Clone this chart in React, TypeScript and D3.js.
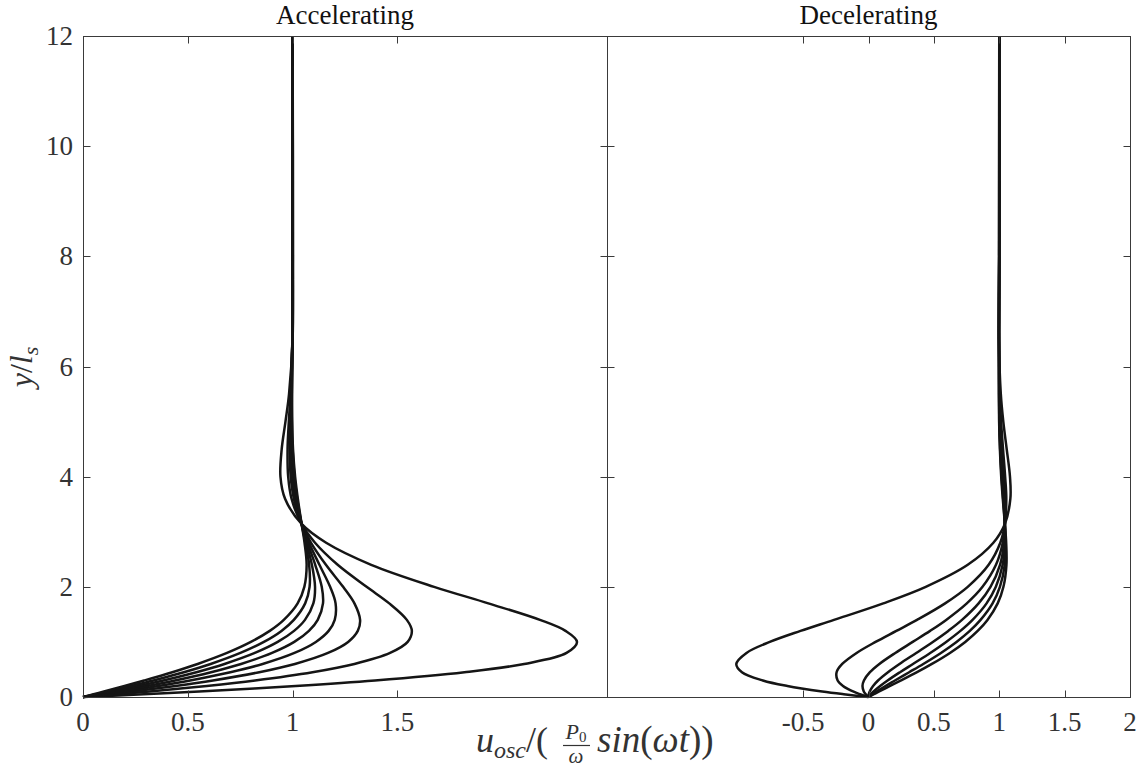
import React from 'react';
import * as d3 from 'd3';

// Wall-normal coordinate y/l_s shared by every profile
const ETA = [0, 0.05, 0.1, 0.2, 0.3, 0.45, 0.6, 0.8, 1.0, 1.2, 1.4, 1.7, 2.0, 2.4, 2.8, 3.1416, 3.6, 4.0, 4.5, 5.0, 5.5, 6.5, 8, 12];

// Accelerating phase profiles (u_osc normalised), one array per phase
const accelProfiles: number[][] = [
  [0, 0.289, 0.554, 1.015, 1.393, 1.82, 2.105, 2.307, 2.357, 2.302, 2.18, 1.934, 1.675, 1.375, 1.16, 1.043, 0.964, 0.942, 0.948, 0.966, 0.983, 1.0, 1.002, 1],
  [0, 0.165, 0.318, 0.59, 0.821, 1.095, 1.295, 1.465, 1.549, 1.569, 1.545, 1.461, 1.353, 1.215, 1.107, 1.043, 0.995, 0.979, 0.976, 0.982, 0.99, 0.999, 1.001, 1],
  [0, 0.121, 0.235, 0.441, 0.62, 0.841, 1.011, 1.169, 1.265, 1.311, 1.322, 1.295, 1.241, 1.159, 1.088, 1.043, 1.006, 0.991, 0.986, 0.988, 0.993, 0.999, 1.0, 1],
  [0, 0.098, 0.19, 0.36, 0.511, 0.703, 0.857, 1.009, 1.111, 1.172, 1.201, 1.205, 1.179, 1.128, 1.078, 1.043, 1.012, 0.998, 0.991, 0.992, 0.994, 0.999, 1.0, 1],
  [0, 0.082, 0.16, 0.306, 0.439, 0.611, 0.754, 0.902, 1.008, 1.078, 1.12, 1.145, 1.139, 1.108, 1.071, 1.043, 1.016, 1.003, 0.995, 0.994, 0.995, 0.999, 1.0, 1],
  [0, 0.07, 0.137, 0.265, 0.383, 0.541, 0.675, 0.82, 0.929, 1.007, 1.059, 1.099, 1.107, 1.092, 1.066, 1.043, 1.019, 1.006, 0.998, 0.995, 0.996, 0.999, 1.0, 1],
  [0, 0.059, 0.118, 0.23, 0.336, 0.481, 0.609, 0.751, 0.863, 0.947, 1.006, 1.06, 1.081, 1.079, 1.061, 1.043, 1.022, 1.009, 1.0, 0.997, 0.997, 0.999, 1.0, 1],
  [0, 0.05, 0.1, 0.198, 0.292, 0.426, 0.547, 0.687, 0.801, 0.891, 0.958, 1.024, 1.056, 1.067, 1.057, 1.043, 1.025, 1.012, 1.002, 0.998, 0.997, 0.999, 1.0, 1],
];

// Decelerating phase profiles
const decelProfiles: number[][] = [
  [0, 0.041, 0.082, 0.165, 0.249, 0.371, 0.485, 0.623, 0.74, 0.835, 0.91, 0.988, 1.032, 1.055, 1.053, 1.043, 1.027, 1.015, 1.005, 0.999, 0.998, 0.998, 1.0, 1],
  [0, 0.03, 0.062, 0.13, 0.202, 0.311, 0.419, 0.554, 0.673, 0.775, 0.857, 0.949, 1.005, 1.042, 1.049, 1.043, 1.03, 1.018, 1.007, 1.001, 0.998, 0.998, 1.0, 1],
  [0, 0.018, 0.039, 0.089, 0.146, 0.241, 0.34, 0.472, 0.594, 0.703, 0.796, 0.903, 0.974, 1.026, 1.044, 1.043, 1.033, 1.021, 1.01, 1.002, 0.999, 0.998, 1.0, 1],
  [0, 0.002, 0.009, 0.035, 0.073, 0.149, 0.237, 0.365, 0.492, 0.61, 0.715, 0.842, 0.933, 1.006, 1.037, 1.043, 1.037, 1.026, 1.013, 1.005, 1.0, 0.998, 1.0, 1],
  [0, -0.021, -0.036, -0.046, -0.035, 0.011, 0.083, 0.205, 0.338, 0.471, 0.594, 0.752, 0.872, 0.975, 1.027, 1.043, 1.043, 1.033, 1.019, 1.008, 1.001, 0.998, 1.0, 1],
  [0, -0.065, -0.118, -0.195, -0.236, -0.244, -0.201, -0.091, 0.054, 0.213, 0.371, 0.586, 0.759, 0.919, 1.008, 1.043, 1.054, 1.045, 1.029, 1.014, 1.004, 0.998, 0.999, 1],
  [0, -0.189, -0.354, -0.62, -0.808, -0.968, -1.011, -0.933, -0.755, -0.52, -0.264, 0.113, 0.438, 0.759, 0.955, 1.043, 1.085, 1.082, 1.057, 1.031, 1.012, 0.997, 0.998, 1],
];

const Y_TICKS = [0, 2, 4, 6, 8, 10, 12];
const ACCEL_X_TICKS = [0, 0.5, 1, 1.5];
const DECEL_X_TICKS = [-0.5, 0, 0.5, 1, 1.5, 2];
const ACCEL_X_DOMAIN: [number, number] = [0, 2.5];
const DECEL_X_DOMAIN: [number, number] = [-2, 2];
const Y_DOMAIN: [number, number] = [0, 12];

const W = 1146;
const H = 769;
const TOP = 36;
const BOTTOM = 697;
const LEFT = 83;
const MID = 607;
const RIGHT = 1130;
const TICK = 7;

const AXIS_COLOR = '#3a3a3a';
const TEXT_COLOR = '#333';
const LINE_COLOR = '#151515';
const SERIF = '"Liberation Serif", "Times New Roman", serif';

type PanelProps = {
  x0: number;
  x1: number;
  domain: [number, number];
  xTicks: number[];
  profiles: number[][];
  title: string;
  showYLabels: boolean;
};

function Panel({ x0, x1, domain, xTicks, profiles, title, showYLabels }: PanelProps) {
  const x = d3.scaleLinear().domain(domain).range([x0, x1]);
  const y = d3.scaleLinear().domain(Y_DOMAIN).range([BOTTOM, TOP]);
  const line = d3
    .line<number>()
    .x((v) => x(v))
    .y((_, i) => y(ETA[i]))
    .curve(d3.curveCatmullRom.alpha(0.5));

  const fmt = (v: number) => String(v);

  return (
    <g>
      {profiles.map((p, i) => (
        <path key={i} d={line(p) || ''} fill="none" stroke={LINE_COLOR} strokeWidth={2.5} strokeLinejoin="round" />
      ))}
      {/* frame */}
      <rect x={x0 + 0.5} y={TOP + 0.5} width={x1 - x0} height={BOTTOM - TOP} fill="none" stroke={AXIS_COLOR} strokeWidth={1} />
      {/* x ticks, bottom and top, pointing inward */}
      {xTicks.map((t) => {
        const px = Math.round(x(t)) + 0.5;
        return (
          <g key={'xt' + t}>
            <line x1={px} x2={px} y1={BOTTOM + 0.5} y2={BOTTOM + 0.5 - TICK} stroke={AXIS_COLOR} />
            <line x1={px} x2={px} y1={TOP + 0.5} y2={TOP + 0.5 + TICK} stroke={AXIS_COLOR} />
            <text x={x(t)} y={731} textAnchor="middle" fontFamily={SERIF} fontSize={27} fill={TEXT_COLOR}>
              {fmt(t)}
            </text>
          </g>
        );
      })}
      {/* y ticks, left and right */}
      {Y_TICKS.map((t) => {
        const py = Math.round(y(t)) + 0.5;
        return (
          <g key={'yt' + t}>
            <line x1={x0 + 0.5} x2={x0 + 0.5 + TICK} y1={py} y2={py} stroke={AXIS_COLOR} />
            <line x1={x1 + 0.5} x2={x1 + 0.5 - TICK} y1={py} y2={py} stroke={AXIS_COLOR} />
            {showYLabels && (
              <text x={x0 - 10} y={y(t) + 9} textAnchor="end" fontFamily={SERIF} fontSize={27} fill={TEXT_COLOR}>
                {fmt(t)}
              </text>
            )}
          </g>
        );
      })}
      <text x={(x0 + x1) / 2} y={24} textAnchor="middle" fontFamily={SERIF} fontSize={27} fill="#111">
        {title}
      </text>
    </g>
  );
}

export default function App() {
  return (
    <svg
      width={W}
      height={H}
      viewBox={`0 0 ${W} ${H}`}
      style={{ position: 'absolute', left: 0, top: 0, background: 'white' }}
    >
      <rect x={0} y={0} width={W} height={H} fill="white" />
      <Panel x0={LEFT} x1={MID} domain={ACCEL_X_DOMAIN} xTicks={ACCEL_X_TICKS} profiles={accelProfiles} title="Accelerating" showYLabels />
      <Panel x0={MID} x1={RIGHT} domain={DECEL_X_DOMAIN} xTicks={DECEL_X_TICKS} profiles={decelProfiles} title="Decelerating" showYLabels={false} />

      {/* y-axis label: y / l_s */}
      <text
        transform="translate(32,367) rotate(-90)"
        textAnchor="middle"
        fontFamily={SERIF}
        fontSize={32}
        fill={TEXT_COLOR}
      >
        <tspan fontStyle="italic">y</tspan>
        <tspan>/</tspan>
        <tspan fontStyle="italic">l</tspan>
        <tspan fontStyle="italic" fontSize={22} dy={6}>s</tspan>
      </text>

      {/* x-axis label: u_osc / ( P_0/omega sin(omega t) ) */}
      <g fontFamily={SERIF} fill={TEXT_COLOR}>
        <text x={476} y={752} fontSize={36}>
          <tspan fontStyle="italic">u</tspan>
          <tspan fontStyle="italic" fontSize={24} dy={6}>osc</tspan>
          <tspan dy={-6}>/(</tspan>
        </text>
        <text x={576} y={739} fontSize={22} textAnchor="middle">
          <tspan fontStyle="italic">P</tspan>
          <tspan fontSize={15} dy={3}>0</tspan>
        </text>
        <line x1={563} x2={590} y1={745.5} y2={745.5} stroke={TEXT_COLOR} strokeWidth={1.2} />
        <text x={576} y={763} fontSize={21} textAnchor="middle" fontStyle="italic">
          ω
        </text>
        <text x={597} y={752} fontSize={37}>
          <tspan fontStyle="italic">sin</tspan>
          <tspan>(</tspan>
          <tspan fontStyle="italic">ωt</tspan>
          <tspan>))</tspan>
        </text>
      </g>
    </svg>
  );
}
